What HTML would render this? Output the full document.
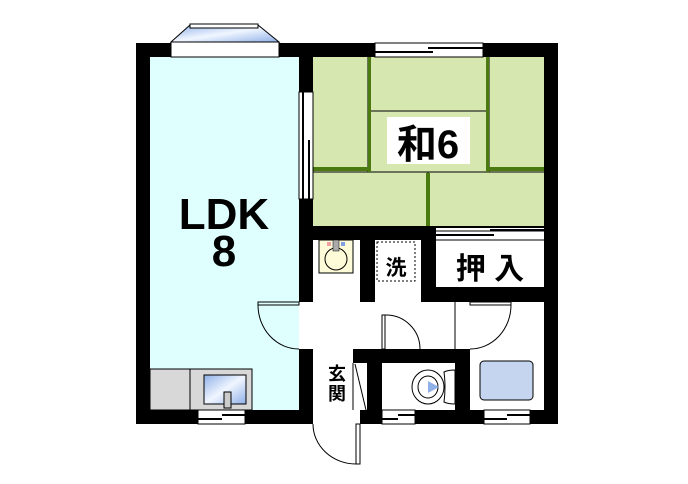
<!DOCTYPE html>
<html><head><meta charset="utf-8"><style>
body{margin:0;background:#fff;width:688px;height:484px;overflow:hidden}
svg{display:block}
text{font-family:"Liberation Sans","Noto Sans CJK JP",sans-serif;font-weight:bold}
</style></head><body>
<svg width="688" height="484" viewBox="0 0 688 484">
<defs><linearGradient id="g" x1="0" y1="0" x2="1" y2="1"><stop offset="0" stop-color="#8fb0e8"/><stop offset=".5" stop-color="#f0f6ff"/><stop offset="1" stop-color="#8fb0e8"/></linearGradient></defs>
<rect x="136" y="43" width="422" height="381" fill="#000"/>
<rect x="150" y="57" width="149" height="353" fill="#dfffff"/>
<rect x="313" y="57" width="231" height="169" fill="#d6e8b0"/>
<g stroke="#000" stroke-width="1" fill="none">
<line x1="368" y1="57" x2="368" y2="172"/><line x1="489" y1="57" x2="489" y2="172"/>
<line x1="368" y1="111" x2="489" y2="111"/><line x1="313" y1="172" x2="544" y2="172"/>
<line x1="428" y1="172" x2="428" y2="226"/>
</g>
<g fill="#4a7a10">
<rect x="368" y="57" width="3" height="115"/><rect x="486" y="57" width="3" height="115"/>
<rect x="313" y="167" width="55" height="4"/><rect x="489" y="167" width="55" height="4"/>
<rect x="426" y="173" width="4" height="53"/>
</g>
<rect x="387" y="117" width="83" height="47" fill="#fff"/>
<text x="428" y="158" font-size="40" text-anchor="middle">和6</text>
<rect x="313" y="240" width="47" height="62" fill="#fff"/>
<rect x="375" y="240" width="46" height="62" fill="#fff"/>
<rect x="436" y="240" width="108" height="47" fill="#fff"/>
<rect x="436" y="228" width="108" height="12" fill="#fff"/>
<rect x="299" y="302" width="245" height="47" fill="#fff"/>
<rect x="313" y="349" width="40" height="61" fill="#fff"/>
<rect x="353" y="363" width="14" height="47" fill="#fff"/>
<rect x="382" y="363" width="73" height="47" fill="#fff"/>
<rect x="470" y="349" width="74" height="61" fill="#fff"/>
<rect x="313" y="410" width="47" height="14" fill="#fff"/>
<rect x="319" y="240" width="34" height="33" fill="#fdfbd8" stroke="#000" stroke-width="1"/>
<circle cx="336" cy="259" r="11" fill="none" stroke="#000"/>
<rect x="333" y="240" width="6" height="11" fill="#aaa" stroke="#000" stroke-width=".5"/>
<rect x="327" y="242" width="4" height="4" fill="#f0a0a0"/><rect x="341" y="242" width="4" height="4" fill="#80a0e0"/>
<rect x="377" y="242" width="38" height="39" fill="none" stroke="#000" stroke-dasharray="2,2"/>
<text x="396" y="275" font-size="21" text-anchor="middle">洗</text>
<text x="490" y="279" font-size="30" text-anchor="middle">押 入</text>
<line x1="436" y1="231" x2="544" y2="231" stroke="#000"/><line x1="436" y1="240" x2="544" y2="240" stroke="#000"/>
<line x1="436" y1="235" x2="494" y2="235" stroke="#000" stroke-width="2"/><line x1="490" y1="230" x2="544" y2="230" stroke="#000" stroke-width="2"/>
<rect x="150" y="369" width="102" height="41" fill="#d8d8d8" stroke="#000" stroke-width="1"/>
<line x1="190" y1="369" x2="190" y2="410" stroke="#000"/>
<rect x="204" y="375" width="42" height="29" fill="url(#g)" stroke="#000"/>
<rect x="224" y="392" width="7" height="16" fill="#ccc" stroke="#000"/>
<text x="224" y="229" font-size="44" text-anchor="middle">LDK</text>
<text x="224" y="266" font-size="44" text-anchor="middle">8</text>
<text x="337" y="380" font-size="18" text-anchor="middle">玄</text>
<text x="337" y="400" font-size="18" text-anchor="middle">関</text>
<line x1="353" y1="363" x2="353" y2="410" stroke="#000"/>
<line x1="355" y1="364" x2="366" y2="410" stroke="#000"/>
<ellipse cx="428" cy="387" rx="16" ry="17" fill="#fff" stroke="#000"/>
<ellipse cx="428" cy="387" rx="10" ry="11" fill="#fff" stroke="#000"/>
<path d="M428 381 L439 387 L428 393Z" fill="#90b0e8"/>
<path d="M444 372 Q448 370 455 370 L455 404 Q448 404 444 402 Q446 387 444 372Z" fill="#fff" stroke="#000"/>
<rect x="480" y="361" width="53" height="39" rx="4" fill="#c5d5f0" stroke="#000"/>
<g fill="#fff" stroke="#000" stroke-width="1">
<rect x="375" y="43" width="108" height="14"/>
<rect x="171" y="42" width="108" height="15"/>
<polygon points="171,42 190,25 258,25 279,42" fill="url(#g)"/>
<rect x="190" y="24" width="68" height="4"/>
<rect x="299" y="92" width="14" height="107"/>
<rect x="198" y="410" width="47" height="14"/>
<rect x="382" y="410" width="33" height="14"/>
<rect x="484" y="410" width="46" height="14"/>
</g>
<g stroke="#000" stroke-width="2">
<line x1="375" y1="52" x2="433" y2="52"/><line x1="428" y1="48" x2="483" y2="48"/>
<line x1="303" y1="92" x2="303" y2="199"/><line x1="309" y1="140" x2="309" y2="199"/>
<line x1="198" y1="419" x2="222" y2="419"/><line x1="222" y1="415" x2="245" y2="415"/>
<line x1="382" y1="419" x2="398" y2="419"/><line x1="398" y1="415" x2="415" y2="415"/>
<line x1="484" y1="419" x2="507" y2="419"/><line x1="507" y1="415" x2="530" y2="415"/>
</g>
<g fill="none" stroke="#000" stroke-width="1">
<rect x="258" y="302" width="41" height="3"/><path d="M258 305 A41 44 0 0 0 299 349"/>
<rect x="382" y="315" width="3" height="34"/><path d="M385 315 A34 34 0 0 1 420 349"/>
<rect x="470" y="302" width="41" height="3"/><path d="M511 305 A41 44 0 0 1 470 349"/>
<line x1="455" y1="302" x2="455" y2="349"/>
<rect x="356" y="424" width="4" height="40"/><path d="M313 424 A43 40 0 0 0 356 464"/>
</g>
</svg>
</body></html>
